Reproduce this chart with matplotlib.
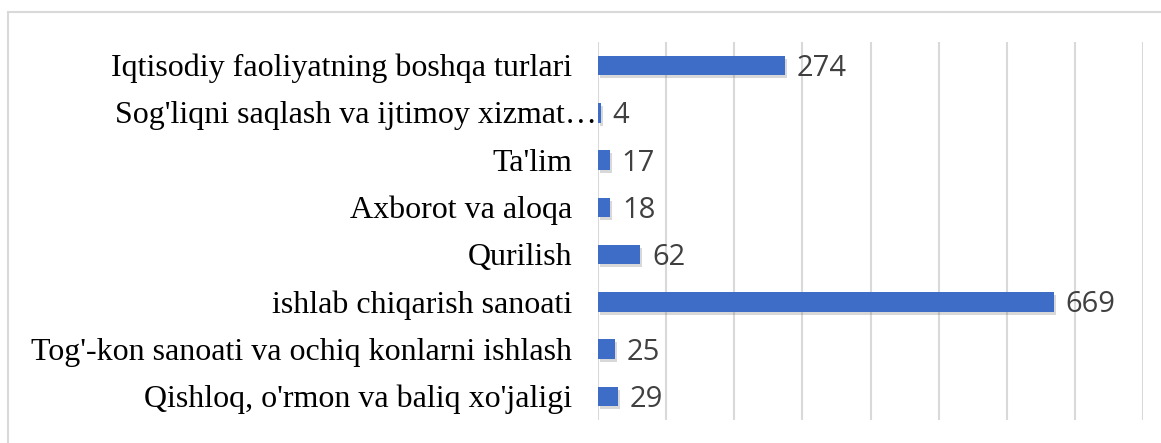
import matplotlib
matplotlib.use("Agg")
import matplotlib.pyplot as plt
from matplotlib.lines import Line2D
from matplotlib.transforms import offset_copy

categories = [
    "Qishloq, o'rmon va baliq xo'jaligi",
    "Tog'-kon sanoati va ochiq konlarni ishlash",
    "ishlab chiqarish sanoati",
    "Qurilish",
    "Axborot va aloqa",
    "Ta'lim",
    "Sog'liqni saqlash va ijtimoy xizmat\u2026",
    "Iqtisodiy faoliyatning boshqa turlari",
]
values = [29, 25, 669, 62, 18, 17, 4, 274]
xticks = [0, 100, 200, 300, 400, 500, 600, 700, 800]

W, H, DPI = 1161, 443, 100
fig = plt.figure(figsize=(W / DPI, H / DPI), dpi=DPI)
fig.patch.set_facecolor("white")

x0, x1 = 598, 1143
y0, y1 = 42, 420
ax = fig.add_axes([x0 / W, 1 - y1 / H, (x1 - x0) / W, (y1 - y0) / H])
ax.set_xlim(xticks[0], xticks[-1])
ax.set_ylim(-0.5, len(categories) - 0.5)
for s in ax.spines.values():
    s.set_visible(False)
ax.set_xticks(xticks)
ax.set_yticks([])
ax.tick_params(axis="x", length=0, labelbottom=False)
ax.grid(axis="x", color="#D9D9D9", linewidth=1.5)
ax.set_axisbelow(True)

ypos = list(range(len(categories)))
bar_h = 0.41
# soft shadow
shadow_tr = offset_copy(ax.transData, fig=fig, x=2, y=-3, units="dots")
ax.barh(ypos, values, height=bar_h, color="#7f7f7f", alpha=0.3,
        transform=shadow_tr, zorder=2, linewidth=0)
ax.barh(ypos, values, height=bar_h, color="#3E6DC8", zorder=3, linewidth=0)

for y, v in zip(ypos, values):
    tr = offset_copy(ax.transData, fig=fig, x=12, y=-3, units="dots")
    ax.text(v, y, str(v), transform=tr, ha="left", va="center",
            fontsize=21, family="Open Sans", color="#404040")

for y, lab in zip(ypos, categories):
    off = -1 if lab.endswith("\u2026") else -26
    tr = offset_copy(ax.transData, fig=fig, x=off, y=-3, units="dots")
    ax.text(0, y, lab, transform=tr, ha="right", va="center",
            fontsize=23, family="Liberation Serif", color="black", clip_on=False)

# light gray frame (top and left edges visible)
fig.add_artist(Line2D([8 / W, 1.0], [1 - 12 / H, 1 - 12 / H], color="#D9D9D9", linewidth=1.5))
fig.add_artist(Line2D([8 / W, 8 / W], [0, 1 - 12 / H], color="#D9D9D9", linewidth=1.5))

fig.savefig("out.png", dpi=DPI)
